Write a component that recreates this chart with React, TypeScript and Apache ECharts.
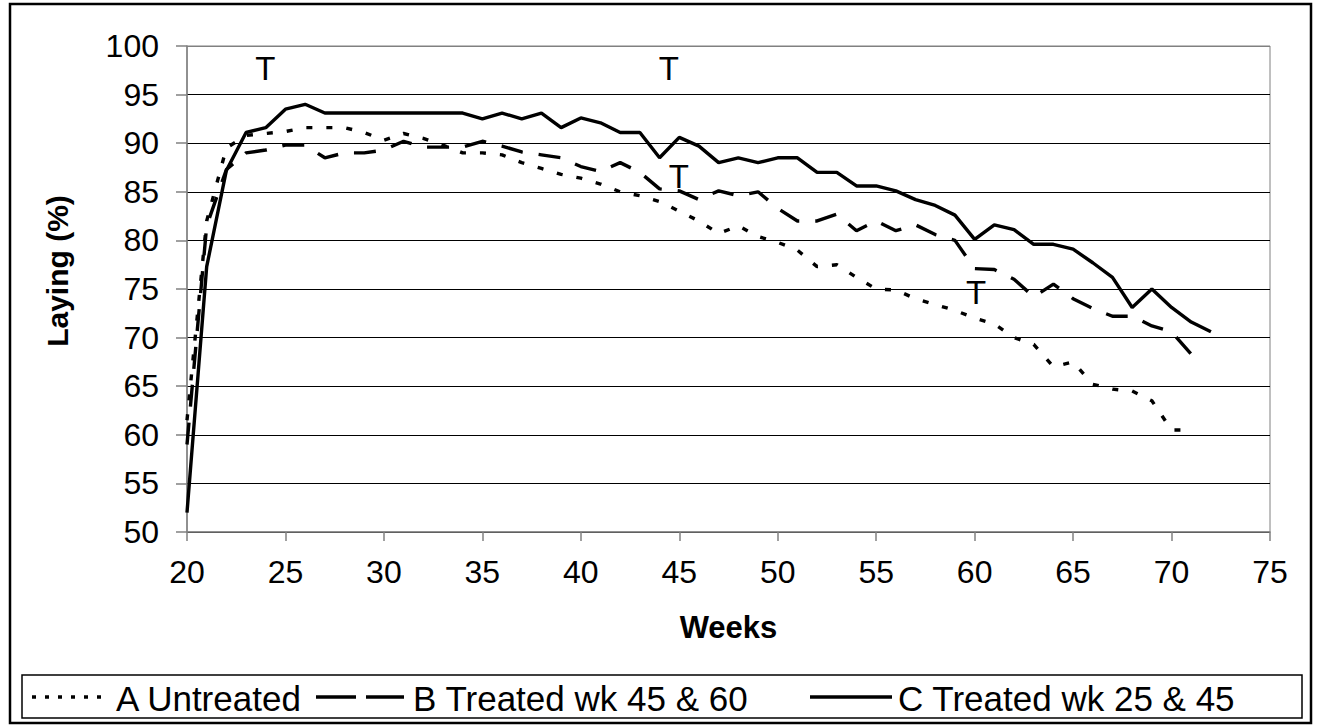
import React, { useEffect, useRef } from "react";
import * as echarts from "echarts";

const weeksA = [20,21,22,23,24,25,26,27,28,29,30,31,32,33,34,35,36,37,38,39,40,41,42,43,44,45,46,47,48,49,50,51,52,53,54,55,56,57,58,59,60,61,62,63,64,65,66,67,68,69,70,71];
const valuesA = [61.5,82,89.5,90.8,91,91.2,91.6,91.6,91.6,91.1,90.3,91.0,90.5,89.8,89.0,89.0,88.8,88.0,87.4,86.8,86.4,85.8,85.0,84.6,84.0,83.0,82.0,80.7,81.5,80.4,79.8,79.0,77.3,77.5,76.2,75.0,74.9,74.0,73.4,72.8,72.0,71.4,70.0,69.3,67.0,67.5,65.2,64.7,64.5,63.5,60.5,60.5];

const weeksB = weeksA;
const valuesB = [59,81.5,87.3,89.0,89.3,89.8,89.8,88.5,89.0,89.0,89.3,90.2,89.6,89.6,89.6,90.2,89.7,89.1,88.8,88.5,87.6,87.1,88.0,87.0,85.3,85.1,84.2,85.1,84.6,85.0,83.3,82.0,82.0,82.7,81.0,82.0,81.0,81.6,80.6,80.0,77.1,77.0,76.0,74.2,75.5,74.0,73.0,72.2,72.2,71.2,70.6,68.3];

const weeksC = [20,21,22,23,24,25,26,27,28,29,30,31,32,33,34,35,36,37,38,39,40,41,42,43,44,45,46,47,48,49,50,51,52,53,54,55,56,57,58,59,60,61,62,63,64,65,66,67,68,69,70,71,72];
const valuesC = [52,77.3,87.2,91.1,91.6,93.5,94.0,93.1,93.1,93.1,93.1,93.1,93.1,93.1,93.1,92.5,93.1,92.5,93.1,91.6,92.6,92.1,91.1,91.1,88.5,90.6,89.7,88.0,88.5,88.0,88.5,88.5,87.0,87.0,85.6,85.6,85.1,84.2,83.6,82.6,80.1,81.6,81.1,79.6,79.6,79.1,77.7,76.2,73.1,75.0,73.1,71.6,70.6];

// Treatment markers "T" (week, laying %)
const treatmentWeeks = [24, 44.5, 45, 60.1];
const treatmentLevels = [97.6, 97.6, 86.5, 74.6];

const seriesNames = ["A Untreated", "B Treated wk 45 & 60", "C Treated wk 25 & 45"];
const xTicks = { min: 20, max: 75, interval: 5 };
const yTicks = { min: 50, max: 100, interval: 5 };

const FONT = "'Liberation Sans', Arial, sans-serif";

const dashA = [6, 14];
const dashB = [22, 16];

export default function App() {
  const ref = useRef<HTMLDivElement>(null);
  useEffect(() => {
    document.body.style.margin = "0";
    if (!ref.current) return;
    const chart = echarts.init(ref.current, null, { renderer: "svg" });
    const zip = (xs: number[], ys: number[]) => xs.map((x, i) => [x, ys[i]]);
    const splitColors = Array.from({ length: 11 }, (_, i) => (i === 10 ? "#808080" : "#000"));

    // legend layout (custom, drawn as graphic)
    const legY = 697;
    const legendItems = [
      { name: seriesNames[0], x1: 32, x2: 108, tx: 116, dash: [4, 9] },
      { name: seriesNames[1], x1: 316, x2: 404, tx: 413, dash: [40, 10] },
      { name: seriesNames[2], x1: 810, x2: 892, tx: 898, dash: null as number[] | null },
    ];
    const legendGraphics: any[] = [
      {
        type: "rect",
        shape: { x: 22, y: 675, width: 1280, height: 43 },
        style: { fill: "#fff", stroke: "#000", lineWidth: 1.5 },
        silent: true,
      },
    ];
    legendItems.forEach((it) => {
      legendGraphics.push({
        type: "line",
        shape: { x1: it.x1, y1: legY, x2: it.x2, y2: legY },
        style: { stroke: "#000", lineWidth: 3.5, lineDash: it.dash || undefined },
        silent: true,
      });
      legendGraphics.push({
        type: "text",
        x: it.tx,
        y: legY + 1,
        style: {
          text: it.name,
          fontSize: 35,
          fontFamily: FONT,
          fill: "#000",
          textAlign: "left",
          textVerticalAlign: "middle",
        },
        silent: true,
      });
    });

    chart.setOption({
      animation: false,
      backgroundColor: "#fff",
      textStyle: { fontFamily: FONT, color: "#000" },
      grid: {
        left: 187,
        right: 48,
        top: 46,
        bottom: 196,
        show: true,
        borderColor: "#808080",
        borderWidth: 1,
        backgroundColor: "transparent",
      },
      xAxis: {
        type: "value",
        min: xTicks.min,
        max: xTicks.max,
        interval: xTicks.interval,
        name: "Weeks",
        nameLocation: "middle",
        nameGap: 80,
        nameTextStyle: { fontSize: 31, fontWeight: "bold", color: "#000", fontFamily: FONT },
        axisLine: { lineStyle: { color: "#808080", width: 1.5 } },
        axisTick: { show: true, length: 9, lineStyle: { color: "#808080", width: 1.5 } },
        axisLabel: { fontSize: 32, color: "#000", margin: 24, fontFamily: FONT },
        splitLine: { show: false },
      },
      yAxis: {
        type: "value",
        min: yTicks.min,
        max: yTicks.max,
        interval: yTicks.interval,
        axisLine: { show: true, lineStyle: { color: "#808080", width: 1.5 } },
        axisTick: { show: true, length: 11, lineStyle: { color: "#808080", width: 1.5 } },
        axisLabel: { fontSize: 32, color: "#000", margin: 28, fontFamily: FONT },
        splitLine: { show: true, lineStyle: { color: splitColors, width: 1.2 } },
      },
      graphic: [
        {
          type: "rect",
          shape: { x: 10, y: 4, width: 1301, height: 719 },
          style: { fill: "none", stroke: "#000", lineWidth: 2.5 },
          silent: true,
        },
        {
          type: "text",
          x: 57,
          y: 271,
          rotation: Math.PI / 2,
          style: {
            text: "Laying (%)",
            fontSize: 30,
            fontWeight: "bold",
            fontFamily: FONT,
            fill: "#000",
            textAlign: "center",
            textVerticalAlign: "middle",
          },
          silent: true,
        },
        ...legendGraphics,
      ],
      series: [
        {
          name: seriesNames[0],
          type: "line",
          data: zip(weeksA, valuesA),
          symbol: "none",
          lineStyle: { color: "#000", width: 3.4, type: dashA },
          itemStyle: { color: "#000" },
        },
        {
          name: seriesNames[1],
          type: "line",
          data: zip(weeksB, valuesB),
          symbol: "none",
          lineStyle: { color: "#000", width: 3.4, type: dashB },
          itemStyle: { color: "#000" },
        },
        {
          name: seriesNames[2],
          type: "line",
          data: zip(weeksC, valuesC),
          symbol: "none",
          lineStyle: { color: "#000", width: 3.4, type: "solid" },
          itemStyle: { color: "#000" },
        },
        {
          name: "T",
          type: "scatter",
          data: zip(treatmentWeeks, treatmentLevels),
          symbol: "rect",
          symbolSize: 1,
          silent: true,
          itemStyle: { color: "rgba(0,0,0,0)" },
          label: {
            show: true,
            formatter: "T",
            position: [0, 0],
            align: "center",
            verticalAlign: "middle",
            fontSize: 33,
            color: "#000",
            opacity: 1,
            textBorderWidth: 0,
            fontFamily: FONT,
          },
        },
      ],
    });
    return () => chart.dispose();
  }, []);
  return <div ref={ref} style={{ width: 1318, height: 728 }} />;
}
